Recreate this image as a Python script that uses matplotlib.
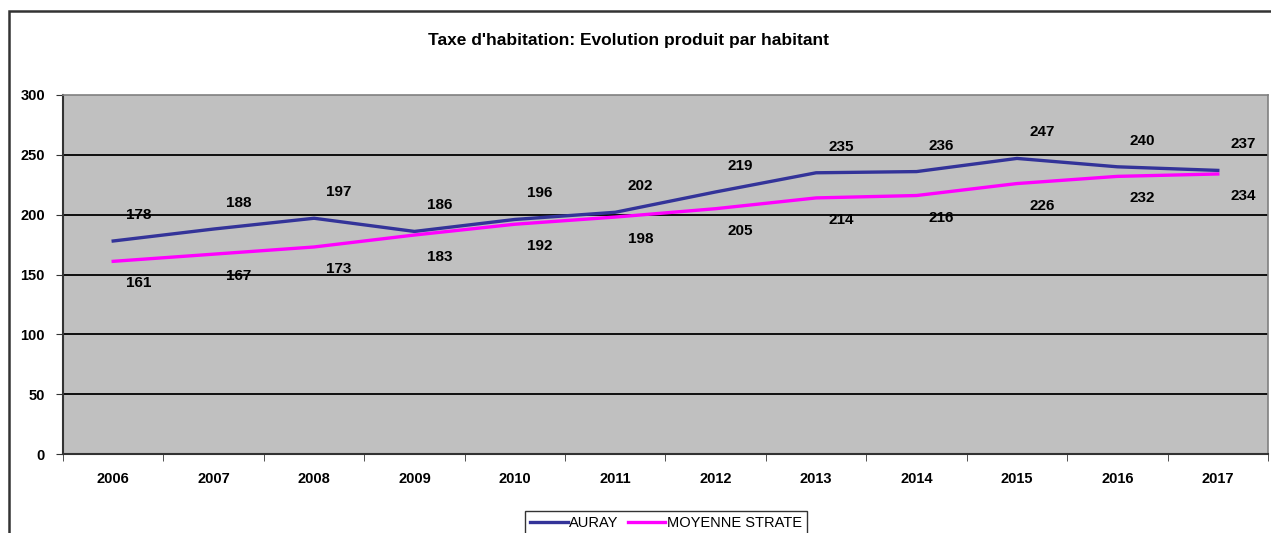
import matplotlib
matplotlib.use("Agg")
from matplotlib import pyplot as plt
from matplotlib.patches import Rectangle
from matplotlib.lines import Line2D

years = [2006, 2007, 2008, 2009, 2010, 2011, 2012, 2013, 2014, 2015, 2016, 2017]
auray = [178, 188, 197, 186, 196, 202, 219, 235, 236, 247, 240, 237]
moyenne = [161, 167, 173, 183, 192, 198, 205, 214, 216, 226, 232, 234]

plt.rcParams['font.family'] = ['Liberation Sans', 'DejaVu Sans']

fig = plt.figure(figsize=(12.71, 5.33), dpi=100)
ax = fig.add_axes([63 / 1271, 1 - 454 / 533, (1268 - 63) / 1271, (454 - 95) / 533])

# outer chart frame
fig.patches.append(Rectangle((9 / 1271, -0.1), 1.2, 1 - 11 / 533 + 0.1,
                             transform=fig.transFigure, fill=False,
                             edgecolor='#333333', linewidth=1.8))

ax.set_facecolor('#c0c0c0')
for y in [50, 100, 150, 200, 250]:
    ax.axhline(y, color='black', linewidth=1.3, zorder=1)

ax.plot(years, auray, color='#333399', linewidth=2.4, zorder=3)
ax.plot(years, moyenne, color='#ff00ff', linewidth=2.4, zorder=3)

for x, a, m in zip(years, auray, moyenne):
    ax.annotate(str(a), (x, a), xytext=(25, 26), textcoords='offset pixels',
                ha='center', va='center', fontsize=11, fontweight='bold')
    ax.annotate(str(m), (x, m), xytext=(25, -22), textcoords='offset pixels',
                ha='center', va='center', fontsize=11, fontweight='bold')

ax.set_xlim(2005.5, 2017.5)
ax.set_ylim(0, 300)
ax.set_yticks([0, 50, 100, 150, 200, 250, 300])
ax.set_xticks(years)
ax.set_xticks([y - 0.5 for y in years] + [2017.5], minor=True)
ax.tick_params(axis='x', which='major', length=0, pad=13, labelsize=10.5)
ax.tick_params(axis='x', which='minor', length=5, color='#333333')
ax.tick_params(axis='y', length=5, color='#333333', labelsize=10.5, pad=8)
for lab in ax.get_xticklabels() + ax.get_yticklabels():
    lab.set_fontweight('bold')

for s in ['top', 'right']:
    ax.spines[s].set_color('#808080')
    ax.spines[s].set_linewidth(1.2)
for s in ['left', 'bottom']:
    ax.spines[s].set_color('#333333')
    ax.spines[s].set_linewidth(1.5)

fig.text(628 / 1271, 1 - 41 / 533, "Taxe d'habitation: Evolution produit par habitant",
         ha='center', va='center', fontsize=12.5, fontweight='bold')

handles = [Line2D([], [], color='#333399', linewidth=2.4),
           Line2D([], [], color='#ff00ff', linewidth=2.4)]
leg = fig.legend(handles, ['AURAY', 'MOYENNE STRATE'], loc='upper center',
                 bbox_to_anchor=(666 / 1271, 1 - 504 / 533), ncol=2,
                 fontsize=10.5, frameon=True, fancybox=False, edgecolor='black',
                 handlelength=2.6, handletextpad=0.1, columnspacing=0.6,
                 borderpad=0.35)
leg.get_frame().set_linewidth(1.0)

fig.savefig('out.png', dpi=100)
